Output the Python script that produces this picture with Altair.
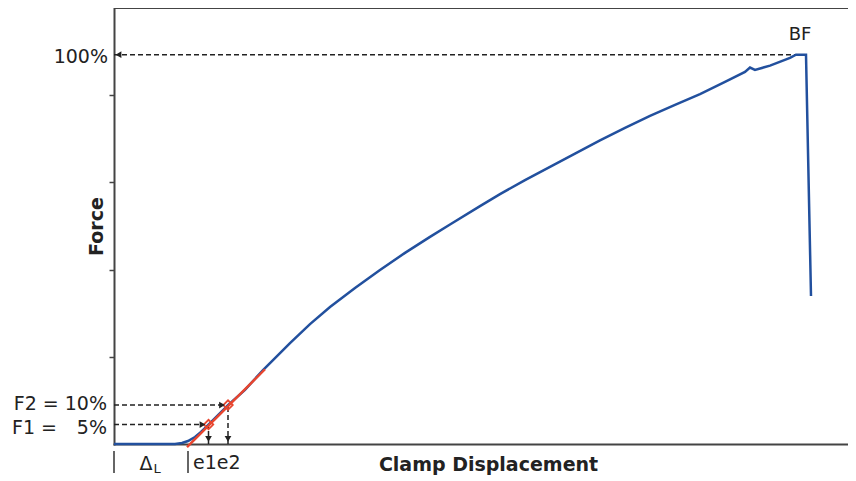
import altair as alt
import pandas as pd

# blue force-displacement curve (displacement units, force %)
disp = [0, 6.1, 6.8, 7.4, 8.1, 8.7, 9.45, 11.4, 13.1, 14.9, 17.6, 19.6, 21.6, 24.1,
        26.6, 29.1, 31.6, 33.6, 36.6, 38.6, 41.1, 43.6, 46.1, 48.6, 51.1, 53.6,
        56.1, 58.6, 61.1, 63.1, 63.6, 64.1, 65.6, 67.6, 68.2, 69.2, 69.7]
force = [0, 0, 0.26, 0.77, 1.8, 3.1, 5, 10, 13.9, 19.0, 25.9, 30.8, 35.2, 40.1,
         44.7, 49.1, 53.2, 56.4, 61.1, 64.2, 67.8, 71.2, 74.6, 78.0, 81.2, 84.3,
         87.1, 89.9, 93.0, 95.6, 96.7, 96.1, 97.2, 99.2, 100, 100, 38.0]

# red secant line
red_x = [7.3, 15.1]
red_y = [-0.8, 19.2]

# F1 / F2 points
e_vals = [9.45, 11.4]
f_vals = [5, 10]

bf_x = 69.2
bf_y = 100
dl_x = 7.4

ymax = 112
xmax = 73.4
yticks = [22.4, 44.8, 67.2, 89.6]

BLUE = "#22509e"
RED = "#e8452e"
DASH = "#222222"
AX = "#444444"
FONT = "DejaVu Sans"
FS = 19

xs = alt.Scale(domain=[0, xmax], nice=False, zero=False)
ys = alt.Scale(domain=[0, ymax], nice=False, zero=False)

curve_df = pd.DataFrame({"x": disp, "y": force, "o": list(range(len(disp)))})
red_df = pd.DataFrame({"x": red_x, "y": red_y})
pts_df = pd.DataFrame({"x": e_vals, "y": f_vals})

base_x = alt.X("x:Q", scale=xs,
               axis=alt.Axis(title="Clamp Displacement", labels=False, ticks=False, grid=False,
                             domainColor=AX, domainWidth=2, titleFont=FONT, titleFontSize=FS,
                             titleFontWeight="bold", titleColor="#222", titlePadding=11,
                             titleX=374))
base_y = alt.Y("y:Q", scale=ys,
               axis=alt.Axis(title="Force", labels=False, values=yticks, tickSize=5,
                             tickColor=AX, tickWidth=1.5, grid=False, domainColor=AX,
                             domainWidth=2, titleFont=FONT, titleFontSize=FS,
                             titleFontWeight="bold", titleColor="#222", titlePadding=2))

curve = alt.Chart(curve_df).mark_line(color=BLUE, strokeWidth=2.5).encode(
    x=base_x, y=base_y, order="o:Q")

red = alt.Chart(red_df).mark_line(color=RED, strokeWidth=2.4, clip=False).encode(x="x:Q", y="y:Q")

# horizontal dashed lines
h_df = pd.DataFrame({"x": [0, 0, 0], "x2": [bf_x, e_vals[0] - 0.5, e_vals[1] - 0.5],
                     "y": [bf_y, f_vals[0], f_vals[1]]})
hlines = alt.Chart(h_df).mark_rule(color=DASH, strokeWidth=1.5, strokeDash=[5, 3]).encode(
    x="x:Q", x2="x2", y="y:Q")

v_df = pd.DataFrame({"x": e_vals, "y": [0, 0], "y2": f_vals})
vlines = alt.Chart(v_df).mark_rule(color=DASH, strokeWidth=1.5, strokeDash=[5, 3]).encode(
    x="x:Q", y="y:Q", y2="y2")

arr_left = alt.Chart(pd.DataFrame({"x": [0.45], "y": [bf_y]})).mark_point(
    shape="triangle-left", filled=True, color=DASH, size=45, opacity=1).encode(x="x:Q", y="y:Q")
arr_right = alt.Chart(pd.DataFrame({"x": [e_vals[0] - 0.6, e_vals[1] - 0.6], "y": f_vals})).mark_point(
    shape="triangle-right", filled=True, color=DASH, size=45, opacity=1).encode(x="x:Q", y="y:Q")
arr_down = alt.Chart(pd.DataFrame({"x": e_vals, "y": [1.3, 1.3]})).mark_point(
    shape="triangle-down", filled=True, color=DASH, size=45, opacity=1).encode(x="x:Q", y="y:Q")

diamonds = alt.Chart(pts_df).mark_point(shape="diamond", filled=False, color=RED,
                                        strokeWidth=1.8, size=90, opacity=1).encode(x="x:Q", y="y:Q")

top_line = alt.Chart(pd.DataFrame({"x": [0], "x2": [xmax], "y": [ymax]})).mark_rule(
    color=AX, strokeWidth=2).encode(x="x:Q", x2="x2", y="y:Q")

# tick bars below the axis
bars = alt.Chart(pd.DataFrame({"x": [0, dl_x]})).mark_rule(color="#333", strokeWidth=1.5).encode(
    x="x:Q", y=alt.value(443), y2=alt.value(465))

def txt(df, size=FS, **kw):
    return alt.Chart(df).mark_text(font=FONT, color="#222", fontSize=size, **kw).encode(
        x="x:Q", y="y:Q", text="t:N")

t100 = txt(pd.DataFrame({"x": [0], "y": [bf_y], "t": ["100%"]}), align="right", dx=-6, dy=2)
tbf = txt(pd.DataFrame({"x": [bf_x - 0.6], "y": [bf_y], "t": ["BF"]}), size=18, align="center", dy=-20)
tf2 = txt(pd.DataFrame({"x": [0], "y": [f_vals[1]], "t": ["F2 = 10%"]}), align="right", dx=-7, dy=-1)
tf1a = txt(pd.DataFrame({"x": [0], "y": [f_vals[0]], "t": ["F1 ="]}), align="left", dx=-102, dy=3)
tf1b = txt(pd.DataFrame({"x": [0], "y": [f_vals[0]], "t": ["5%"]}), align="right", dx=-7, dy=3)
tdl = alt.Chart(pd.DataFrame({"x": [3.2], "t": ["Δ"]})).mark_text(
    font=FONT, color="#222", fontSize=FS, align="center").encode(x="x:Q", y=alt.value(456), text="t:N")
tdl2 = alt.Chart(pd.DataFrame({"x": [4.3], "t": ["L"]})).mark_text(
    font=FONT, color="#222", fontSize=13, align="center").encode(x="x:Q", y=alt.value(461), text="t:N")
te = alt.Chart(pd.DataFrame({"x": [dl_x + 0.5], "t": ["e1e2"]})).mark_text(
    font=FONT, color="#222", fontSize=FS, align="left").encode(x="x:Q", y=alt.value(455), text="t:N")

chart = alt.layer(
    top_line, hlines, vlines, curve, red, diamonds, arr_left, arr_right, arr_down, bars,
    t100, tbf, tf2, tf1a, tf1b, tdl, tdl2, te
).properties(
    width=734, height=436,
    autosize=alt.AutoSizeParams(type="none"),
    padding={"left": 106, "top": 0, "right": 0, "bottom": 36},
).configure_view(stroke=None).configure_axis(domainCap="square")

chart.save("out.html", embed_options={"renderer": "svg", "actions": False})
